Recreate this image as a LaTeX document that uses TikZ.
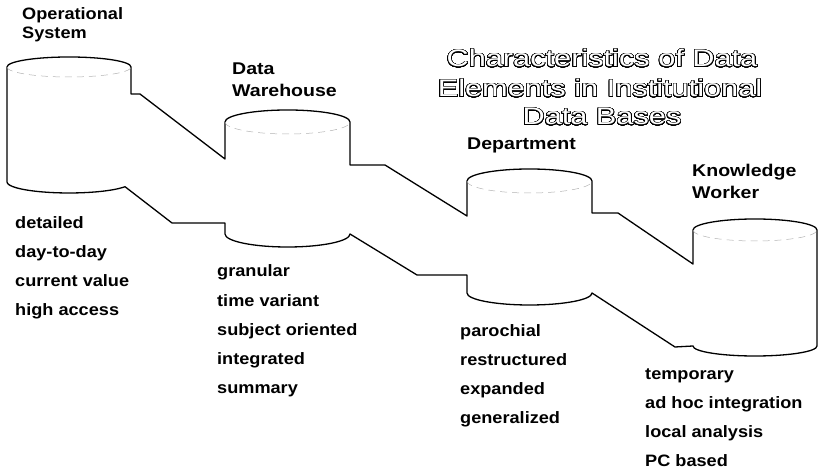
\documentclass[tikz,border=0pt]{standalone}
\usepackage{fontspec}
\usepackage{contour}
\newfontfamily\labfont{Liberation Sans}[FakeStretch=1.1]
\newfontfamily\headfont{Liberation Sans}[FakeStretch=1.15]
\newfontfamily\titlefont{Liberation Sans}[FakeStretch=1.28]
\contourlength{0.6pt}
\contournumber{48}
\begin{document}
\begin{tikzpicture}[x=1pt,y=1pt,
  lab/.style={anchor=base west,inner sep=0pt,font=\labfont\bfseries\fontsize{16.5}{19}\selectfont},
  head/.style={anchor=base west,inner sep=0pt,font=\headfont\bfseries\fontsize{17}{20}\selectfont},
  ttl/.style={anchor=base,inner sep=0pt,font=\titlefont\fontsize{24}{28}\selectfont},
  outline/.style={line width=1.3pt,line join=round,black},
  rim/.style={line width=0.5pt,gray!60,dash pattern=on 7pt off 5pt}]
\useasboundingbox (0,0) rectangle (819,473);
% main outline of the four stepped cylinders
\draw[outline]
  (7,406) arc[start angle=180,end angle=0,x radius=62pt,y radius=10pt]
  -- (131,379) -- (140,379) -- (225,314) -- (225,351)
  arc[start angle=180,end angle=0,x radius=62.5pt,y radius=12pt]
  -- (350,308) -- (385,308) -- (467,257) -- (467,292)
  arc[start angle=180,end angle=0,x radius=62.5pt,y radius=12pt]
  -- (592,260) -- (618,260) -- (693,209) -- (693,243)
  arc[start angle=180,end angle=0,x radius=62pt,y radius=11pt]
  -- (817,127)
  arc[start angle=0,end angle=-180,x radius=62pt,y radius=10pt]
  -- (675,126) -- (592,180)
  arc[start angle=0,end angle=-180,x radius=62.5pt,y radius=12pt]
  -- (467,198) -- (417,198) -- (350,239)
  arc[start angle=0,end angle=-180,x radius=62.5pt,y radius=13pt]
  -- (225,250) -- (172,250) -- (125,286.3)
  arc[start angle=-25.4,end angle=-180,x radius=62pt,y radius=11pt]
  -- cycle;
% dashed front rims of the top ellipses
\draw[rim] (7,406) arc[start angle=180,end angle=360,x radius=62pt,y radius=10pt];
\draw[rim] (225,351) arc[start angle=180,end angle=360,x radius=62.5pt,y radius=12pt];
\draw[rim] (467,292) arc[start angle=180,end angle=360,x radius=62.5pt,y radius=12pt];
\draw[rim] (693,243) arc[start angle=180,end angle=360,x radius=62pt,y radius=11pt];
% title
\node[ttl] (t1) at (602,406) {\contour{black}{\textcolor{white}{Characteristics of Data}}};
\node[ttl] (t2) at (600,376) {\contour{black}{\textcolor{white}{Elements in Institutional}}};
\node[ttl] (t3) at (602,348) {\contour{black}{\textcolor{white}{Data Bases}}};
% headers
\node[lab] (hop1) at (22,453) {Operational};
\node[lab] (hop2) at (22,434) {System};
\node[head] (hdw1) at (232,398) {Data};
\node[head] (hdw2) at (232,376) {Warehouse};
\node[head] (hdep) at (467,323) {Department};
\node[head] (hkw1) at (692,296) {Knowledge};
\node[head] (hkw2) at (692,274) {Worker};
% lists
\foreach \t [count=\i] in {detailed,day-to-day,current value,high access}
  \node[lab] (op\i) at (15,{244-29*(\i-1)}) {\t};
\foreach \t [count=\i] in {granular,time variant,subject oriented,integrated,summary}
  \node[lab] (dw\i) at (217,{196-29.2*(\i-1)}) {\t};
\foreach \t [count=\i] in {parochial,restructured,expanded,generalized}
  \node[lab] (dep\i) at (460,{136-29*(\i-1)}) {\t};
\foreach \t [count=\i] in {temporary,ad hoc integration,local analysis,PC based}
  \node[lab] (kw\i) at (645,{93-29*(\i-1)}) {\t};
\end{tikzpicture}
\end{document}
